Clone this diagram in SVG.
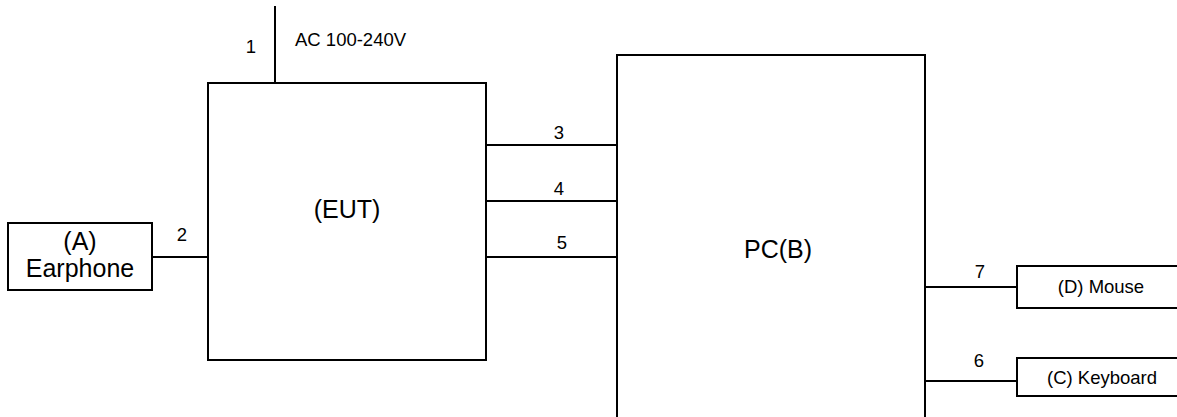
<svg xmlns="http://www.w3.org/2000/svg" width="1177" height="417" viewBox="0 0 1177 417">
  <style>
    .box { fill: #ffffff; stroke: #000000; stroke-width: 2; }
    .wire { fill: none; stroke: #000000; stroke-width: 2; }
    .lbl { font-family: "Liberation Sans", Arial, sans-serif; fill: #000000; }
    .sm { font-size: 18.5px; }
    .lg { font-size: 25px; }
    .c { text-anchor: middle; }
  </style>
  <rect x="0" y="0" width="1177" height="417" fill="#ffffff"/>

  <g id="connectors">
    <line class="wire" x1="275" y1="6" x2="275" y2="83"/>
    <line class="wire" x1="152" y1="257" x2="208" y2="257"/>
    <line class="wire" x1="486" y1="145" x2="617" y2="145"/>
    <line class="wire" x1="486" y1="201" x2="617" y2="201"/>
    <line class="wire" x1="486" y1="257" x2="617" y2="257"/>
    <line class="wire" x1="925" y1="287" x2="1017" y2="287"/>
    <line class="wire" x1="925" y1="381" x2="1017" y2="381"/>
    <text class="lbl sm c" x="251" y="53">1</text>
    <text class="lbl sm" x="295" y="46">AC 100-240V</text>
    <text class="lbl sm c" x="182" y="241">2</text>
    <text class="lbl sm c" x="559" y="139">3</text>
    <text class="lbl sm c" x="559" y="195">4</text>
    <text class="lbl sm c" x="562" y="249">5</text>
    <text class="lbl sm c" x="980" y="278">7</text>
    <text class="lbl sm c" x="979" y="367">6</text>
  </g>

  <g id="earphone">
    <rect class="box" x="8" y="223" width="144" height="67"/>
    <text class="lbl lg c" x="80" y="250">(A)</text>
    <text class="lbl lg c" x="80" y="277">Earphone</text>
  </g>

  <g id="eut">
    <rect class="box" x="208" y="83" width="278" height="277"/>
    <text class="lbl lg c" x="347" y="218">(EUT)</text>
  </g>

  <g id="pc">
    <rect class="box" x="617" y="55" width="308" height="380"/>
    <text class="lbl lg c" x="778" y="258">PC(B)</text>
  </g>

  <g id="mouse">
    <rect class="box" x="1017" y="266" width="180" height="42"/>
    <text class="lbl sm c" x="1101" y="293">(D) Mouse</text>
  </g>

  <g id="keyboard">
    <rect class="box" x="1017" y="358" width="180" height="38"/>
    <text class="lbl sm c" x="1102" y="384">(C) Keyboard</text>
  </g>
</svg>
